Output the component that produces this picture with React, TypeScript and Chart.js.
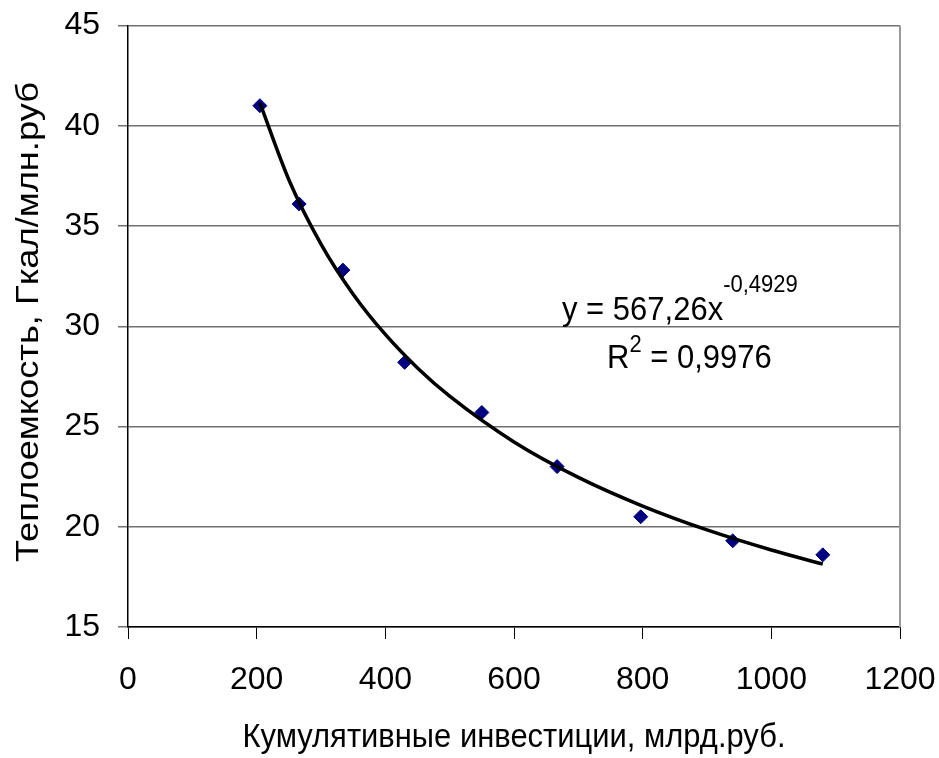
import React, { useEffect, useRef } from "react";
import { Chart, registerables } from "chart.js";

Chart.register(...registerables);

// Observed data (Кумулятивные инвестиции, млрд.руб. vs Теплоемкость, Гкал/млн.руб)
const investX = [205, 266, 334, 430, 550, 667, 797, 940, 1080];
const heatY = [41.0, 36.1, 32.8, 28.2, 25.7, 23.0, 20.5, 19.3, 18.6];

// Power trend line
const trendX = [205, 250, 300, 350, 400, 450, 500, 600, 700, 800, 900, 1000, 1080];
const trendY = [41.14, 37.31, 34.1, 31.6, 29.59, 27.92, 26.51, 24.23, 22.46, 21.03, 19.84, 18.84, 18.14];

const xTitle = "Кумулятивные инвестиции, млрд.руб.";
const yTitle = "Теплоемкость, Гкал/млн.руб";
const eqMain = "y = 567,26x";
const eqSup = "-0,4929";
const r2Base = "R";
const r2Sup = "2";
const r2Rest = " = 0,9976";

const FONT = "'Liberation Sans', Arial, sans-serif";
const VSTRETCH = 1.1;

function drawStretched(ctx: any, text: string, x: number, y: number, font: string, sx = 1, sy = VSTRETCH) {
  ctx.save();
  ctx.font = font;
  ctx.translate(x, y);
  ctx.scale(sx, sy);
  ctx.fillText(text, 0, 0);
  ctx.restore();
}

const decorPlugin = {
  id: "decor",
  afterDraw(chart: any) {
    const { ctx, chartArea } = chart;
    const { left, right, top, bottom } = chartArea;
    ctx.save();
    // right border of plot area
    ctx.strokeStyle = "#999999";
    ctx.lineWidth = 2;
    ctx.beginPath();
    ctx.moveTo(right, top);
    ctx.lineTo(right, bottom);
    ctx.stroke();

    ctx.fillStyle = "#000";
    // y title
    ctx.save();
    ctx.font = `32px ${FONT}`;
    const wy = ctx.measureText(yTitle).width;
    ctx.translate(29, 322);
    ctx.rotate(-Math.PI / 2);
    ctx.scale(480 / wy, 1);
    ctx.textAlign = "center";
    ctx.textBaseline = "middle";
    ctx.fillText(yTitle, 0, 0);
    ctx.restore();

    // x title
    ctx.save();
    ctx.font = `31px ${FONT}`;
    const wx = ctx.measureText(xTitle).width;
    ctx.textAlign = "center";
    ctx.textBaseline = "alphabetic";
    drawStretched(ctx, xTitle, (left + right) / 2, bottom + 120, `31px ${FONT}`, 543 / wx, VSTRETCH);
    ctx.restore();

    // equation
    ctx.textAlign = "left";
    ctx.textBaseline = "alphabetic";
    const main = `31px ${FONT}`;
    const sup = `22px ${FONT}`;
    ctx.font = main;
    const w1 = ctx.measureText(eqMain).width;
    const x1 = left + 434;
    const base1 = top + 294.5;
    drawStretched(ctx, eqMain, x1, base1, main);
    drawStretched(ctx, eqSup, x1 + w1, base1 - 28, sup);

    ctx.font = main;
    const wr = ctx.measureText(r2Base).width;
    ctx.font = sup;
    const ws = ctx.measureText(r2Sup).width;
    const x2 = left + 479;
    const base2 = top + 342.5;
    drawStretched(ctx, r2Base, x2, base2, main);
    drawStretched(ctx, r2Sup, x2 + wr, base2 - 16, sup);
    drawStretched(ctx, r2Rest, x2 + wr + ws, base2, main);
    ctx.restore();
  },
};

export default function App() {
  const ref = useRef<HTMLCanvasElement | null>(null);
  useEffect(() => {
    if (!ref.current) return;
    const points = investX.map((x, i) => ({ x, y: heatY[i] }));
    const trend = trendX.map((x, i) => ({ x, y: trendY[i] }));
    const chart = new Chart(ref.current, {
      type: "scatter",
      data: {
        datasets: [
          {
            label: "trend",
            data: trend,
            showLine: true,
            borderColor: "#000000",
            borderWidth: 3.5,
            pointRadius: 0,
            cubicInterpolationMode: "monotone",
            order: 0,
          } as any,
          {
            label: "data",
            data: points,
            pointStyle: "rectRot",
            pointRadius: 7,
            pointBackgroundColor: "#000080",
            pointBorderColor: "#000080",
            pointBorderWidth: 1,
            showLine: false,
            order: 1,
          } as any,
        ],
      },
      options: {
        animation: false,
        responsive: false,
        maintainAspectRatio: false,
        layout: { autoPadding: false, padding: { left: 0, right: 39, top: 25.5, bottom: 0 } },
        plugins: { legend: { display: false }, tooltip: { enabled: false } },
        scales: {
          x: {
            type: "linear",
            min: 0,
            max: 1200,
            ticks: {
              stepSize: 200,
              color: "#000",
              font: { family: FONT, size: 32 },
              padding: 22,
              maxRotation: 0,
              callback: (v: any) => String(v),
            },
            grid: {
              drawOnChartArea: false,
              drawTicks: true,
              tickLength: 12,
              color: "#000",
            },
            border: { display: true, color: "#000", width: 1.5 },
            afterFit: (s: any) => {
              s.height = 131;
              s.paddingLeft = 0;
              s.paddingRight = 0;
            },
          },
          y: {
            type: "linear",
            min: 15,
            max: 45,
            ticks: {
              stepSize: 5,
              color: "#000",
              font: { family: FONT, size: 32 },
              padding: 18,
              callback: (v: any) => String(v),
            },
            grid: {
              drawOnChartArea: true,
              drawTicks: true,
              tickLength: 10,
              color: "#707070",
              lineWidth: 1.5,
            },
            border: { display: true, color: "#000", width: 1.5 },
            afterFit: (s: any) => {
              s.width = 128;
              s.paddingTop = 0;
              s.paddingBottom = 0;
            },
          },
        },
      },
      plugins: [decorPlugin],
    });
    return () => chart.destroy();
  }, []);
  return (
    <div style={{ position: "fixed", left: 0, top: 0, width: 939, height: 758, background: "#fff" }}>
      <canvas ref={ref} width={939} height={758} />
    </div>
  );
}
